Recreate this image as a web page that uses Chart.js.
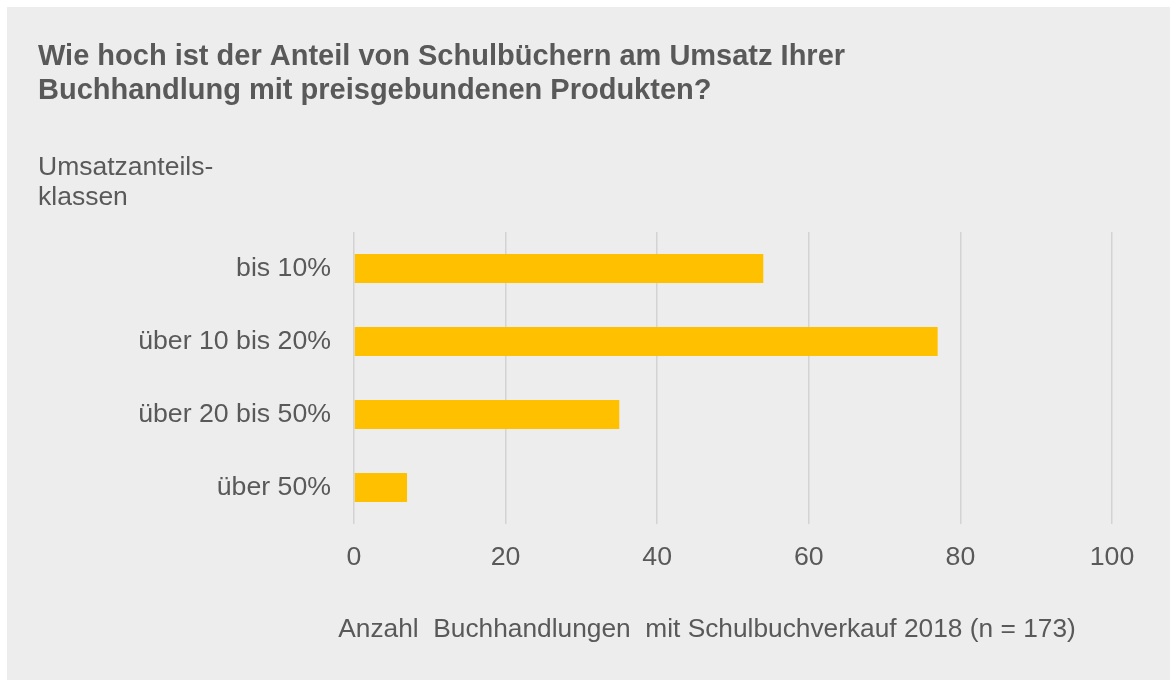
<!DOCTYPE html>
<html>
<head>
<meta charset="utf-8">
<script src="https://cdn.jsdelivr.net/npm/chart.js@4/dist/chart.umd.min.js"></script>
<style>
  html, body { margin: 0; padding: 0; background: #ffffff; }
  #wrap { position: absolute; left: 7px; top: 7px; width: 1163px; height: 673px; background: #ededed; }
  canvas { display: block; }
</style>
</head>
<body>
<div id="wrap"><canvas id="c" width="1163" height="673"></canvas></div>
<script>
const categories = ["bis 10%", "über 10 bis 20%", "über 20 bis 50%", "über 50%"];
const values = [54, 77, 35, 7];
const titleLines = ["Wie hoch ist der Anteil von Schulbüchern am Umsatz Ihrer", "Buchhandlung mit preisgebundenen Produkten?"];
const yAxisLabel = ["Umsatzanteils-", "klassen"];
const xAxisLabel = "Anzahl  Buchhandlungen  mit Schulbuchverkauf 2018 (n = 173)";
const xTicks = [0, 20, 40, 60, 80, 100];

const TEXT = "#595959";
const FONT = "'Liberation Sans', Arial, sans-serif";

const xTitlePlugin = {
  id: "xTitle",
  afterDraw(chart) {
    const ctx = chart.ctx;
    const area = chart.chartArea;
    ctx.save();
    ctx.fillStyle = TEXT;
    ctx.font = "26.3px " + FONT;
    ctx.textAlign = "center";
    ctx.textBaseline = "middle";
    ctx.fillText(xAxisLabel, (area.left + area.right) / 2 - 26, area.bottom + 106);
    ctx.restore();
  }
};

new Chart(document.getElementById("c"), {
  type: "bar",
  data: {
    labels: categories,
    datasets: [{
      data: values,
      backgroundColor: "#FFC000",
      borderWidth: 0,
      barPercentage: 0.4,
      categoryPercentage: 1.0
    }]
  },
  options: {
    indexAxis: "y",
    responsive: false,
    animation: false,
    layout: { padding: { left: 31, right: 58, top: 0, bottom: 0 } },
    plugins: {
      legend: { display: false },
      tooltip: { enabled: false },
      title: {
        display: true,
        text: titleLines,
        align: "start",
        color: TEXT,
        font: { family: FONT, size: 29, weight: "bold", lineHeight: 34 / 29 },
        padding: { top: 33, bottom: 0 }
      },
      subtitle: {
        display: true,
        text: yAxisLabel,
        align: "start",
        color: TEXT,
        font: { family: FONT, size: 26.5, weight: "normal", lineHeight: 30 / 26.5 },
        padding: { top: 45, bottom: 19 }
      }
    },
    scales: {
      x: {
        min: 0,
        max: 100,
        afterBuildTicks(scale) { scale.ticks = xTicks.map(v => ({ value: v })); },
        afterFit(scale) { scale.height = 156; },
        grid: { color: "#d3d3d3", lineWidth: 1.5, drawTicks: false },
        border: { display: false },
        ticks: { color: TEXT, font: { family: FONT, size: 26.7 }, padding: 18, maxRotation: 0 }
      },
      y: {
        afterFit(scale) { scale.width = 316; },
        grid: { display: false, drawTicks: false },
        border: { display: false },
        ticks: { color: TEXT, font: { family: FONT, size: 26.7 }, padding: 23 }
      }
    }
  },
  plugins: [xTitlePlugin]
});
</script>
</body>
</html>
